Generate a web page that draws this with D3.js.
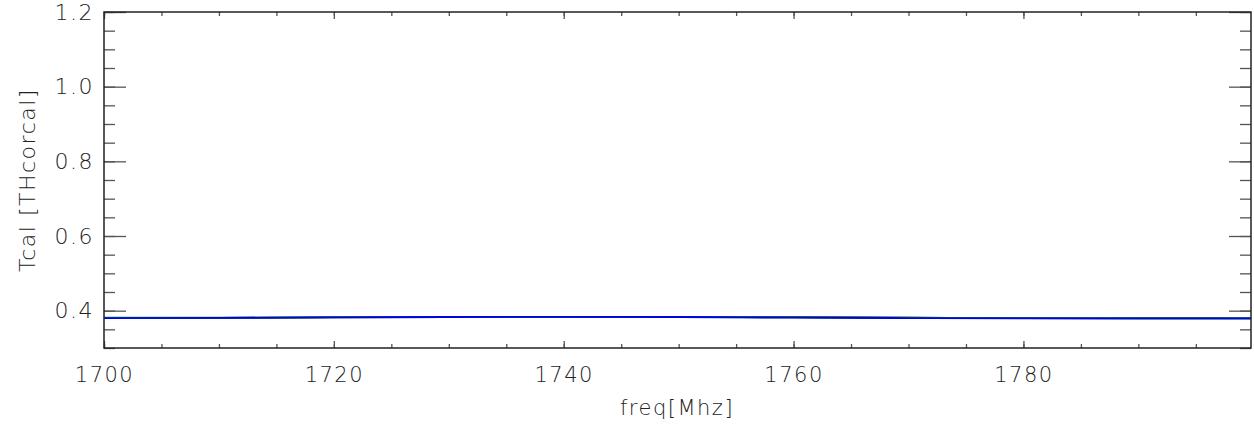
<!DOCTYPE html>
<html>
<head>
<meta charset="utf-8">
<script src="https://cdn.jsdelivr.net/npm/d3@7"></script>
<style>
  body { margin: 0; background: #fff; }
  text { font-family: "DejaVu Sans", sans-serif; font-weight: 200; fill: #222; }
</style>
</head>
<body>
<div id="chart"></div>
<script>
// data
const freqs = [1700, 1710, 1720, 1730, 1740, 1750, 1760, 1770, 1780, 1790, 1800];
const tcalGreen = [0.3810, 0.3812, 0.3825, 0.3830, 0.3832, 0.3828, 0.3822, 0.3812, 0.3802, 0.3797, 0.3796];
const tcalBlack = [0.3805, 0.3808, 0.3822, 0.3830, 0.3833, 0.3830, 0.3825, 0.3812, 0.3800, 0.3795, 0.3794];
const tcalBlue = [0.3800, 0.3805, 0.3820, 0.3830, 0.3835, 0.3830, 0.3812, 0.3802, 0.3795, 0.3792, 0.3792];
const xTicks = [1700, 1720, 1740, 1760, 1780];
const yTicks = [0.4, 0.6, 0.8, 1.0, 1.2];

const width = 1254, height = 426;
const margin = {left: 104, right: 3, top: 12, bottom: 78};

const svg = d3.select("#chart").append("svg")
  .attr("width", width)
  .attr("height", height);

const x = d3.scaleLinear([1700, 1799.8], [margin.left, width - margin.right]);
const y = d3.scaleLinear([0.3, 1.2], [height - margin.bottom, margin.top]);

const series = [
  {vals: tcalBlack, color: "#000000"},
  {vals: tcalGreen, color: "#00a000"},
  {vals: tcalBlue, color: "#0000ee"}
];

const line = d3.line()
  .x((d, i) => x(freqs[i]))
  .y(d => y(d))
  .curve(d3.curveMonotoneX);

svg.append("clipPath").attr("id", "clip")
  .append("rect")
  .attr("x", margin.left).attr("y", margin.top)
  .attr("width", width - margin.left - margin.right)
  .attr("height", height - margin.top - margin.bottom);

svg.append("g").attr("clip-path", "url(#clip)")
  .selectAll("path")
  .data(series)
  .join("path")
  .attr("d", d => line(d.vals))
  .attr("fill", "none")
  .attr("stroke", d => d.color)
  .attr("stroke-width", 1.8);

// axes: IDL style box with ticks on all four sides
const xMinor = d3.range(1700, 1800, 5);
const yMinor = d3.range(0.3, 1.2001, 0.05);

svg.append("g")
  .attr("transform", `translate(0,${height - margin.bottom})`)
  .call(d3.axisBottom(x).tickValues(xMinor).tickSize(-4).tickFormat(""))
  .call(g => g.select(".domain").remove());
svg.append("g")
  .attr("transform", `translate(0,${height - margin.bottom})`)
  .call(d3.axisBottom(x).tickValues(xTicks).tickSize(-7).tickPadding(19).tickFormat(d3.format("d")))
  .call(g => g.select(".domain").remove())
  .call(g => g.selectAll("text").attr("font-size", 21).attr("letter-spacing", 1.5).attr("fill", "#222"));

svg.append("g")
  .attr("transform", `translate(0,${margin.top})`)
  .call(d3.axisTop(x).tickValues(xMinor).tickSize(-4).tickFormat(""))
  .call(g => g.select(".domain").remove());
svg.append("g")
  .attr("transform", `translate(0,${margin.top})`)
  .call(d3.axisTop(x).tickValues(xTicks).tickSize(-7).tickFormat(""))
  .call(g => g.select(".domain").remove());

svg.append("g")
  .attr("transform", `translate(${margin.left},0)`)
  .call(d3.axisLeft(y).tickValues(yMinor).tickSize(-11).tickFormat(""))
  .call(g => g.select(".domain").remove());
svg.append("g")
  .attr("transform", `translate(${margin.left},0)`)
  .call(d3.axisLeft(y).tickValues(yTicks).tickSize(-22).tickPadding(10).tickFormat(d3.format(".1f")))
  .call(g => g.select(".domain").remove())
  .call(g => g.selectAll("text").attr("font-size", 22).attr("letter-spacing", 1.5).attr("fill", "#222"));

svg.append("g")
  .attr("transform", `translate(${width - margin.right},0)`)
  .call(d3.axisRight(y).tickValues(yMinor).tickSize(-11).tickFormat(""))
  .call(g => g.select(".domain").remove());
svg.append("g")
  .attr("transform", `translate(${width - margin.right},0)`)
  .call(d3.axisRight(y).tickValues(yTicks).tickSize(-22).tickFormat(""))
  .call(g => g.select(".domain").remove());

svg.selectAll(".tick line").attr("stroke", "#555").attr("stroke-width", 1.3);

// frame
svg.append("rect")
  .attr("x", margin.left).attr("y", margin.top)
  .attr("width", width - margin.left - margin.right)
  .attr("height", height - margin.top - margin.bottom)
  .attr("fill", "none")
  .attr("stroke", "#222")
  .attr("stroke-width", 1.5);

// axis titles
svg.append("text")
  .attr("x", 677)
  .attr("y", 415)
  .attr("text-anchor", "middle")
  .attr("font-size", 21)
  .attr("letter-spacing", 1.5)
  .text("freq[Mhz]");

svg.append("text")
  .attr("transform", `translate(35,${(margin.top + height - margin.bottom) / 2}) rotate(-90)`)
  .attr("text-anchor", "middle")
  .attr("font-size", 22)
  .attr("letter-spacing", 1.5)
  .text("Tcal [THcorcal]");
</script>
</body>
</html>
